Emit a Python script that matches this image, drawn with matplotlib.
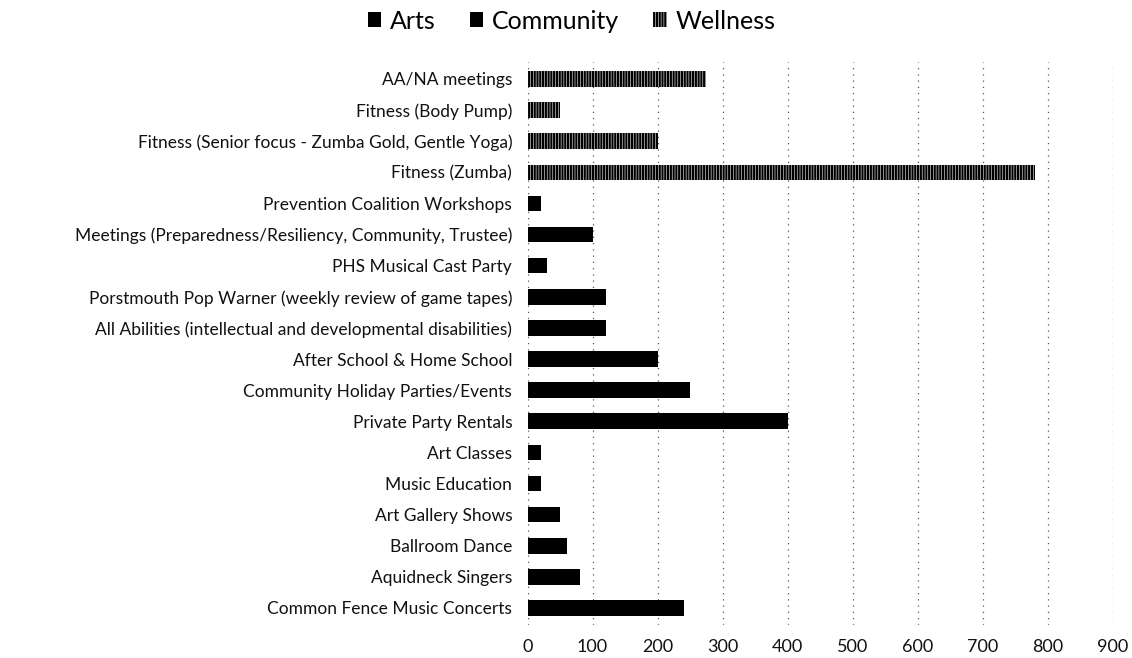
import matplotlib.pyplot as plt

plt.rcParams['font.family'] = ['Lato', 'DejaVu Sans']
plt.rcParams['hatch.linewidth'] = 1.6

# categories listed bottom to top
arts_labels = ["Common Fence Music Concerts", "Aquidneck Singers", "Ballroom Dance",
               "Art Gallery Shows", "Music Education", "Art Classes"]
arts_values = [240, 80, 60, 50, 20, 20]

community_labels = ["Private Party Rentals", "Community Holiday Parties/Events",
                    "After School & Home School",
                    "All Abilities (intellectual and developmental disabilities)",
                    "Porstmouth Pop Warner (weekly review of game tapes)",
                    "PHS Musical Cast Party",
                    "Meetings (Preparedness/Resiliency, Community, Trustee)",
                    "Prevention Coalition Workshops"]
community_values = [400, 250, 200, 120, 120, 30, 100, 20]

wellness_labels = ["Fitness (Zumba)", "Fitness (Senior focus - Zumba Gold, Gentle Yoga)",
                   "Fitness (Body Pump)", "AA/NA meetings"]
wellness_values = [780, 200, 50, 275]

x_ticks = [0, 100, 200, 300, 400, 500, 600, 700, 800, 900]


def main():
    fig = plt.figure(figsize=(11.32, 6.58), dpi=100)
    ax = fig.add_axes([0.466, 0.05, 0.517, 0.856])

    labels = arts_labels + community_labels + wellness_labels
    n_a = len(arts_labels)
    n_c = len(community_labels)
    pos_a = list(range(n_a))
    pos_c = list(range(n_a, n_a + n_c))
    pos_w = list(range(n_a + n_c, len(labels)))

    h = 0.5
    ax.barh(pos_a, arts_values, height=h, color="black", label="Arts")
    ax.barh(pos_c, community_values, height=h, color="black", label="Community")
    ax.barh(pos_w, wellness_values, height=h, color="white", edgecolor="black",
            linewidth=0, hatch="||||||", label="Wellness")

    ax.set_yticks(range(len(labels)))
    ax.set_yticklabels(labels, fontsize=12.5, color="#111111")
    ax.set_ylim(-0.55, len(labels) - 0.45)
    ax.set_xlim(0, 900)
    ax.set_xticks(x_ticks)
    ax.tick_params(axis="x", labelsize=13, length=0, pad=10, labelcolor="#111111")
    ax.tick_params(axis="y", length=0, pad=11)

    for s in ax.spines.values():
        s.set_visible(False)
    ax.set_axisbelow(True)
    ax.grid(axis="x", color="#555555", linewidth=0.9, linestyle=(0, (1, 4)))

    fig.legend(loc="center", bbox_to_anchor=(0.505, 0.968), ncol=3, frameon=False,
               fontsize=18, handlelength=0.55, handleheight=0.55, handletextpad=0.35,
               columnspacing=1.35)

    fig.savefig("out.png", dpi=100)


if __name__ == "__main__":
    main()
